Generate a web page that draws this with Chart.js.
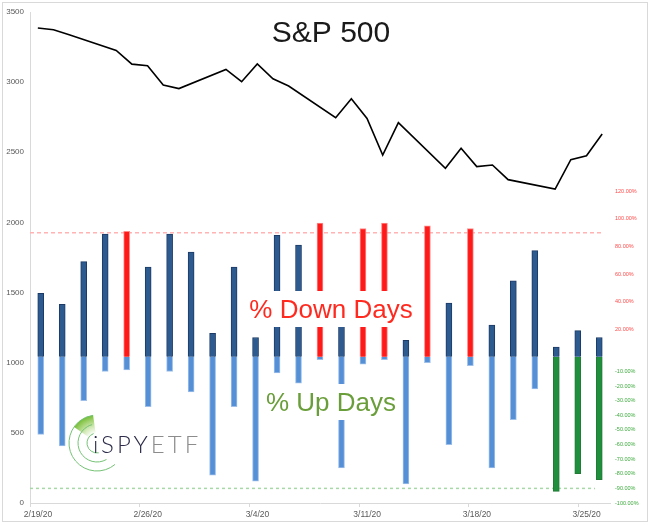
<!DOCTYPE html>
<html>
<head>
<meta charset="utf-8">
<script src="https://cdn.jsdelivr.net/npm/chart.js@4/dist/chart.umd.min.js"></script>
<style>
  html, body { margin: 0; padding: 0; background: #fff; }
</style>
</head>
<body>
<canvas id="spx-chart" width="650" height="525"></canvas>
<script>
// trading days on the chart
const tradingDates = ['2/19/20', '2/20/20', '2/21/20', '2/24/20', '2/25/20', '2/26/20', '2/27/20', '2/28/20',
  '3/2/20', '3/3/20', '3/4/20', '3/5/20', '3/6/20', '3/9/20', '3/10/20', '3/11/20', '3/12/20', '3/13/20',
  '3/16/20', '3/17/20', '3/18/20', '3/19/20', '3/20/20', '3/23/20', '3/24/20', '3/25/20', '3/26/20'];
// S&P 500 close
const spClose = [3386.15, 3373.23, 3337.75, 3225.89, 3128.21, 3116.39, 2978.76, 2954.22,
  3090.23, 3003.37, 3130.12, 3023.94, 2972.37, 2746.56, 2882.23, 2741.38, 2480.64, 2711.02,
  2386.13, 2529.19, 2398.10, 2409.39, 2304.92, 2237.40, 2447.33, 2475.56, 2630.07];
// % of stocks down / up each day
const downPct = [46, 38, 69, 89, 91, 65, 89, 76, 17, 65, 14, 88, 81, 97, 24, 93, 97, 12, 95, 39, 93, 23, 55, 77, 7, 19, 14];
const upPct = [53, 61, 30, 10, 9, 34, 10, 24, 81, 34, 85, 11, 18, 2, 76, 5, 2, 87, 4, 60, 6, 76, 43, 22, 92, 80, 84];
const upSignalDates = ['3/24/20', '3/25/20', '3/26/20'];

const dateTickLabels = ['2/19/20', '2/26/20', '3/4/20', '3/11/20', '3/18/20', '3/25/20'];
const topTicks = [20, 40, 60, 80, 100, 120];
const bottomTicks = [-10, -20, -30, -40, -50, -60, -70, -80, -90, -100];
const downThreshold = 90;
const upThreshold = 90;

function toDate(s) {
  const [m, d, y] = s.split('/').map(Number);
  return new Date(2000 + y, m - 1, d);
}
const firstDay = toDate(tradingDates[0]);
function dayIndex(s) {
  return Math.round((toDate(s) - firstDay) / 86400000);
}
const lastDay = dayIndex(tradingDates[tradingDates.length - 1]);

const DARK = '#2E5B8F', LIGHT = '#5590D6', RED = '#FF1A1A', GREEN = '#1F8E3D';
const FONT = '"Liberation Sans", Arial, sans-serif';

function drawLogo(ctx, x, y) {
  const rad = Math.PI / 180;
  ctx.save();
  const g = ctx.createRadialGradient(x, y, 9, x, y, 28);
  g.addColorStop(0, 'rgba(150,205,80,0)');
  g.addColorStop(1, 'rgba(110,185,40,0.95)');
  ctx.fillStyle = g;
  ctx.beginPath();
  ctx.arc(x, y, 28, 215 * rad, 262 * rad);
  ctx.arc(x, y, 10, 262 * rad, 215 * rad, true);
  ctx.closePath();
  ctx.fill();
  ctx.strokeStyle = '#74C274';
  ctx.lineWidth = 1;
  [[28, 50, 262], [19, 60, 255], [10, 80, 250]].forEach(([r, a0, a1]) => {
    ctx.beginPath();
    ctx.arc(x, y, r, a0 * rad, a1 * rad);
    ctx.stroke();
  });
  ctx.font = '300 24px Lato, "Liberation Sans", sans-serif';
  if ('letterSpacing' in ctx) ctx.letterSpacing = '3px';
  ctx.textAlign = 'left';
  ctx.textBaseline = 'alphabetic';
  ctx.fillStyle = '#2C2C4A';
  ctx.fillText('iSPY', x - 4, y + 10);
  const w = ctx.measureText('iSPY').width;
  ctx.fillStyle = '#8C8C8C';
  ctx.fillText('ETF', x - 4 + w, y + 10);
  ctx.restore();
}

function boxedText(ctx, text, cx, baseline, color) {
  ctx.font = '26px ' + FONT;
  const w = ctx.measureText(text).width;
  ctx.fillStyle = '#fff';
  ctx.fillRect(cx - w / 2 - 6, baseline - 27, w + 12, 36);
  ctx.fillStyle = color;
  ctx.textAlign = 'center';
  ctx.textBaseline = 'alphabetic';
  ctx.fillText(text, cx, baseline);
}

const decorations = {
  id: 'decorations',
  afterLayout(chart) {
    // both percent axes share the right edge of the plot
    const right = chart.chartArea.right;
    const t = chart.scales.yTop, b = chart.scales.yBot;
    t.left = right; t.right = right + 40;
    b.left = right; b.right = right + 40;
  },
  beforeDraw(chart) {
    const ctx = chart.ctx;
    ctx.save();
    ctx.strokeStyle = '#D9D9D9';
    ctx.lineWidth = 1;
    ctx.strokeRect(2.5, 2.5, 645, 519);
    ctx.restore();
  },
  beforeDatasetsDraw(chart) {
    const ctx = chart.ctx, a = chart.chartArea;
    const yt = chart.scales.yTop.getPixelForValue(downThreshold);
    const yb = chart.scales.yBot.getPixelForValue(-upThreshold);
    ctx.save();
    ctx.lineWidth = 1.5;
    ctx.setLineDash([4, 3]);
    ctx.strokeStyle = '#FFB3B3';
    ctx.beginPath(); ctx.moveTo(a.left, yt); ctx.lineTo(a.right - 7, yt); ctx.stroke();
    ctx.setLineDash([3, 3]);
    ctx.strokeStyle = '#A8D8A8';
    ctx.beginPath(); ctx.moveTo(a.left, yb); ctx.lineTo(a.right - 15, yb); ctx.stroke();
    ctx.restore();
  },
  afterDatasetsDraw(chart) {
    const ctx = chart.ctx;
    ctx.save();
    ctx.font = '30px ' + FONT;
    ctx.fillStyle = '#1A1A1A';
    ctx.textAlign = 'center';
    ctx.fillText('S&P 500', 331, 42);
    boxedText(ctx, '% Down Days', 331, 318, '#FF2A1F');
    boxedText(ctx, '% Up Days', 331, 411, '#6A9E3A');
    drawLogo(ctx, 97, 443);
    ctx.restore();
  }
};

new Chart(document.getElementById('spx-chart'), {
  type: 'bar',
  data: {
    datasets: [
      {
        type: 'line',
        label: 'S&P 500',
        data: tradingDates.map((d, i) => ({ x: dayIndex(d), y: spClose[i] })),
        xAxisID: 'xDate',
        yAxisID: 'ySP',
        borderColor: '#000',
        borderWidth: 1.6,
        pointRadius: 0,
        tension: 0
      },
      {
        label: '% Down Days',
        data: downPct,
        xAxisID: 'xCat',
        yAxisID: 'yTop',
        grouped: false,
        barThickness: 6,
        borderWidth: 1,
        backgroundColor: c => downPct[c.dataIndex] >= downThreshold ? RED : DARK,
        borderColor: c => downPct[c.dataIndex] >= downThreshold ? '#FF8A8A' : '#1C3A66'
      },
      {
        label: '% Up Days',
        data: upPct.map(v => -v),
        xAxisID: 'xCat',
        yAxisID: 'yBot',
        grouped: false,
        barThickness: 6,
        borderWidth: 1,
        backgroundColor: c => upSignalDates.includes(tradingDates[c.dataIndex]) ? GREEN : LIGHT,
        borderColor: c => upSignalDates.includes(tradingDates[c.dataIndex]) ? '#237A36' : '#9DBFEA'
      }
    ]
  },
  options: {
    responsive: false,
    animation: false,
    devicePixelRatio: 1,
    layout: { padding: { left: 6, top: 12, right: 0, bottom: 0 } },
    plugins: { legend: { display: false }, tooltip: { enabled: false } },
    scales: {
      xDate: {
        type: 'linear',
        position: 'bottom',
        offset: false,
        min: -0.5,
        max: lastDay + 0.5,
        afterBuildTicks(s) { s.ticks = dateTickLabels.map(d => ({ value: dayIndex(d) - 0.5 })); },
        afterFit(s) { s.height = 22; },
        ticks: {
          callback: (v, i) => dateTickLabels[i],
          labelOffset: 8,
          padding: 3,
          maxRotation: 0,
          autoSkip: false,
          color: '#595959',
          font: { size: 8.5, family: FONT }
        },
        grid: { offset: false, drawOnChartArea: false, tickLength: 4, color: '#D9D9D9' },
        border: { color: '#D9D9D9' }
      },
      xCat: {
        type: 'category',
        labels: tradingDates,
        offset: true,
        display: false
      },
      ySP: {
        position: 'left',
        min: 0,
        max: 3500,
        afterFit(s) { s.width = 24; },
        ticks: {
          stepSize: 500,
          padding: 6,
          callback: v => String(v),
          color: '#595959',
          font: { size: 8, family: FONT }
        },
        grid: { display: false, drawTicks: false },
        border: { color: '#D9D9D9' }
      },
      yTop: {
        position: 'right',
        weight: 0,
        min: -106,
        max: 250,
        afterBuildTicks(s) { s.ticks = topTicks.map(v => ({ value: v })); },
        afterFit(s) { s.width = 0; },
        ticks: {
          callback: v => v.toFixed(2) + '%',
          padding: 5,
          color: '#FF4B4B',
          font: { size: 5.5, family: FONT }
        },
        grid: { display: false, drawTicks: false },
        border: { display: false }
      },
      yBot: {
        position: 'right',
        weight: 1,
        min: -100,
        max: 236,
        afterBuildTicks(s) { s.ticks = bottomTicks.map(v => ({ value: v })); },
        afterFit(s) { s.width = 40; },
        ticks: {
          callback: v => v.toFixed(2) + '%',
          padding: 5,
          color: '#3DAA3D',
          font: { size: 5.5, family: FONT }
        },
        grid: { display: false, drawTicks: false },
        border: { display: false }
      }
    }
  },
  plugins: [decorations]
});
</script>
</body>
</html>
